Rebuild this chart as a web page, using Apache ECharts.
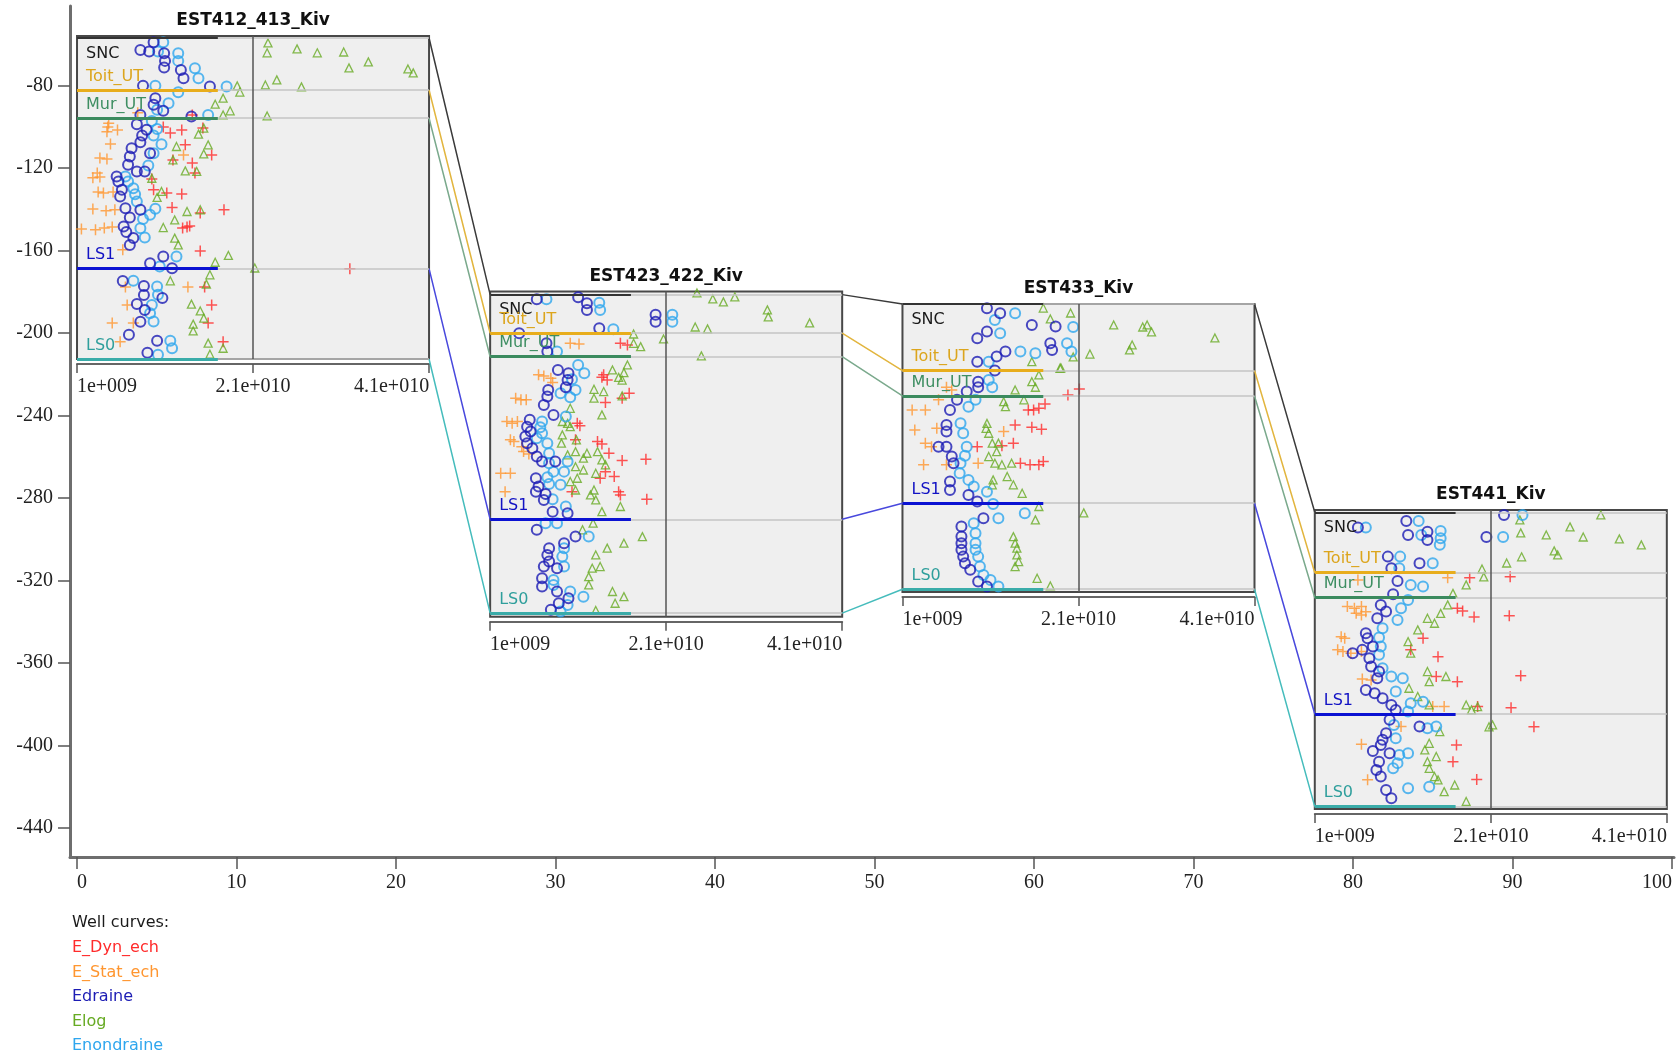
<!DOCTYPE html>
<html><head><meta charset="utf-8">
<script src="https://cdn.jsdelivr.net/npm/echarts@6/dist/echarts.min.js"></script>
<style>html,body{margin:0;padding:0;background:#fff}#c{width:1680px;height:1056px}</style>
</head><body><div id="c"></div>
<script>
// ---------------- DATA ----------------
const seriesNames = ['E_Dyn_ech', 'E_Stat_ech', 'Edraine', 'Elog', 'Enondraine'];
const wellNames = ['EST412_413_Kiv', 'EST423_422_Kiv', 'EST433_Kiv', 'EST441_Kiv'];
const wellX = [0, 25.9, 51.75, 77.6];          // track position along the main x axis
const trackWidth = 22.07;                      // track width in main x units
const wellTop = [-56.0, -179.9, -185.9, -285.8];
const wellBottom = [-212.6, -337.6, -325.5, -430.7];
const markerNames = ['SNC', 'Toit_UT', 'Mur_UT', 'LS1', 'LS0'];
const w1Markers = [-57.0, -82.2, -95.9, -168.8, -212.6];
const w2Markers = [-181.4, -200.1, -211.5, -290.3, -335.8];
const w3Markers = [-185.9, -218.2, -230.5, -282.5, -324.2];
const w4Markers = [-286.9, -316.2, -328.3, -384.7, -429.6];
const markerCurveEnd = 17;                     // marker lines drawn from 1e9 to 1.7e10
const xTicks = [0, 10, 20, 30, 40, 50, 60, 70, 80, 90, 100];
const yTicks = [-80, -120, -160, -200, -240, -280, -320, -360, -400, -440];
const trackTicks = [1, 21, 41];                // in units of 1e9
const trackTickLabels = ['1e+009', '2.1e+010', '4.1e+010'];

// well 1 (x in 1e9 units, depth)
const w1Dyn = [[15.3,-100.6],[10.8,-100.1],[11.6,-103.0],[12.9,-101.6],[13.3,-108.8],[16.3,-113.7],[11.9,-116.1],[14.1,-117.6],[14.4,-122.4],[11.2,-132.1],[12.9,-132.6],[17.7,-140.3],[15.0,-141.8],[13.0,-149.1],[13.5,-148.6],[13.8,-148.1],[15.0,-160.2],[32.0,-168.9],[15.5,-177.7],[16.3,-186.4],[15.9,-195.1],[17.6,-204.3],[14.1,-94.3],[9.5,-125.3],[9.7,-130.6],[11.8,-139.2]];
const w1Stat = [[4.5,-100.1],[4.4,-102.5],[5.6,-101.6],[4.8,-108.4],[3.6,-115.2],[4.4,-115.7],[2.8,-124.8],[3.6,-124.4],[3.3,-122.4],[3.4,-131.6],[4.0,-132.1],[5.1,-131.6],[2.8,-139.9],[4.3,-140.8],[5.3,-140.3],[1.5,-149.6],[3.1,-150.0],[4.1,-149.1],[5.0,-148.6],[6.2,-159.7],[6.5,-177.7],[6.7,-186.4],[5.0,-195.1],[7.4,-195.1],[5.9,-204.3],[7.9,-93.3],[13.1,-113.7],[13.6,-177.7],[4.6,-98.3]];
const w1Drained = [[9.7,-59.1],[8.2,-62.8],[9.2,-63.6],[10.9,-64.4],[11.0,-68.1],[10.9,-71.3],[12.8,-72.5],[13.1,-76.5],[16.1,-80.5],[8.5,-80.1],[9.9,-86.2],[9.7,-89.4],[10.8,-92.3],[14.0,-95.1],[8.2,-94.3],[7.8,-98.8],[8.9,-101.5],[8.4,-104.3],[8.2,-107.5],[7.2,-110.4],[7.0,-114.5],[9.3,-112.9],[6.8,-118.5],[7.8,-121.7],[8.7,-121.7],[5.5,-124.2],[5.7,-126.6],[6.1,-130.6],[5.9,-133.9],[6.5,-139.5],[8.2,-140.3],[7.0,-144.0],[6.3,-148.4],[6.6,-151.1],[7.4,-154.0],[7.0,-157.3],[10.8,-162.9],[9.3,-166.2],[11.8,-168.6],[6.2,-174.8],[8.6,-177.2],[8.6,-181.6],[7.8,-185.9],[8.7,-188.8],[8.2,-194.6],[6.9,-200.9],[10.1,-203.8],[9.0,-209.6],[10.7,-183.0]];
const w1Elog = [[22.7,-59.4],[22.6,-64.2],[26.0,-62.3],[28.3,-64.2],[31.3,-63.8],[31.9,-71.5],[34.1,-68.6],[38.6,-72.0],[39.2,-73.9],[22.4,-79.8],[23.7,-77.3],[26.5,-80.7],[22.6,-94.8],[19.2,-80.2],[19.5,-83.2],[21.2,-168.5],[17.6,-86.2],[16.7,-89.1],[18.4,-92.3],[17.6,-94.3],[15.4,-100.7],[14.8,-103.6],[12.3,-109.6],[15.9,-108.8],[15.4,-113.2],[11.9,-116.1],[13.3,-121.4],[14.6,-121.7],[9.5,-125.0],[10.6,-131.4],[10.1,-134.3],[12.1,-145.2],[13.5,-141.1],[15.0,-140.3],[10.8,-148.9],[12.1,-154.0],[12.5,-157.3],[18.2,-162.4],[16.7,-165.7],[16.1,-171.8],[11.6,-174.7],[15.7,-176.3],[14.0,-186.0],[15.0,-189.3],[15.4,-192.8],[14.2,-195.7],[14.2,-199.0],[15.9,-204.9],[17.6,-207.4],[16.1,-210.3]];
const w1Undrained = [[10.8,-59.1],[10.2,-63.6],[12.5,-64.4],[12.5,-68.1],[14.4,-71.7],[14.8,-76.5],[18.0,-80.5],[9.9,-80.1],[12.5,-83.3],[11.4,-88.6],[10.1,-91.8],[15.9,-94.3],[9.5,-97.2],[10.1,-101.1],[9.7,-104.3],[10.6,-108.5],[9.7,-112.9],[9.1,-118.8],[6.5,-124.2],[6.8,-126.6],[7.4,-129.8],[7.6,-132.7],[7.8,-136.3],[9.9,-139.8],[9.3,-142.7],[8.5,-144.7],[8.2,-149.2],[8.7,-153.7],[12.3,-162.9],[10.4,-167.8],[7.4,-174.7],[10.1,-177.5],[10.2,-181.5],[9.5,-186.4],[9.3,-190.4],[9.7,-194.4],[11.6,-203.8],[11.8,-207.4],[10.2,-210.6]];

// well 2
const w2Dyn = [[15.8,-205.0],[16.6,-205.8],[13.9,-220.3],[14.3,-222.8],[13.7,-221.5],[16.8,-229.2],[16.0,-231.6],[14.1,-233.7],[10.9,-243.8],[11.2,-245.0],[10.7,-251.8],[13.2,-252.6],[13.7,-253.8],[14.5,-258.3],[16.0,-261.8],[18.7,-261.2],[14.1,-267.2],[15.1,-269.6],[13.5,-270.4],[10.3,-276.9],[15.6,-276.9],[15.8,-278.5],[18.8,-280.6]];
const w2Stat = [[10.1,-205.0],[11.1,-205.3],[6.5,-220.3],[7.1,-220.8],[7.9,-221.9],[8.1,-224.0],[3.9,-231.6],[4.5,-232.4],[5.1,-232.4],[2.9,-242.9],[3.5,-243.8],[4.1,-242.9],[3.3,-251.8],[3.7,-252.6],[4.6,-255.1],[4.8,-257.5],[5.4,-258.6],[2.2,-268.0],[3.3,-268.0],[2.7,-276.9]];
const w2Drained = [[6.3,-183.7],[11.0,-182.7],[12.0,-185.6],[12.0,-188.8],[13.4,-197.7],[4.3,-200.1],[7.4,-205.0],[7.5,-209.0],[8.7,-217.9],[9.9,-219.5],[9.8,-222.8],[9.6,-226.3],[7.6,-227.6],[7.5,-230.8],[7.1,-234.9],[8.2,-239.7],[5.5,-242.1],[5.2,-245.4],[5.6,-247.8],[5.0,-250.2],[5.2,-253.4],[5.8,-255.9],[6.3,-259.9],[6.9,-262.3],[8.4,-262.3],[6.2,-270.4],[6.5,-274.4],[6.2,-276.9],[7.3,-278.0],[7.1,-280.9],[8.1,-286.6],[9.8,-287.4],[6.3,-295.4],[10.7,-298.7],[9.4,-301.9],[7.7,-304.3],[7.5,-307.6],[7.7,-310.8],[7.1,-313.2],[8.6,-314.0],[6.9,-318.9],[6.9,-322.9],[8.6,-325.3],[9.9,-328.6],[8.8,-331.0],[7.9,-334.2],[19.8,-191.2],[19.8,-194.6]];
const w2Elog = [[24.5,-180.6],[26.3,-183.5],[27.5,-184.9],[28.8,-182.5],[32.5,-188.8],[32.6,-192.2],[37.3,-195.1],[24.3,-197.1],[25.7,-198.0],[20.7,-202.9],[25.0,-211.1],[17.3,-200.5],[17.3,-205.0],[18.1,-206.6],[16.6,-215.5],[14.9,-217.9],[16.2,-219.2],[15.6,-221.5],[16.0,-222.8],[12.8,-227.3],[13.9,-228.4],[12.8,-231.6],[16.0,-230.5],[13.7,-239.7],[10.1,-236.5],[9.2,-242.9],[9.8,-243.8],[10.1,-245.4],[9.2,-249.4],[9.1,-253.4],[10.8,-251.8],[12.0,-258.3],[9.8,-259.1],[10.7,-257.5],[11.6,-260.7],[13.2,-257.5],[13.7,-261.5],[14.1,-263.9],[10.7,-264.8],[11.6,-266.4],[13.0,-268.0],[10.9,-270.4],[10.1,-272.0],[12.8,-276.1],[10.7,-276.1],[12.4,-278.5],[13.0,-280.9],[13.7,-286.6],[15.8,-284.1],[12.7,-292.2],[11.5,-295.4],[18.3,-298.7],[16.2,-301.9],[14.3,-304.3],[13.0,-307.6],[12.6,-314.0],[13.5,-313.2],[12.2,-318.1],[12.2,-322.1],[14.9,-325.3],[16.2,-327.8],[15.2,-331.0],[13.0,-334.5]];
const w2Undrained = [[7.4,-183.7],[13.4,-185.3],[13.5,-188.8],[15.0,-198.2],[8.6,-209.0],[11.0,-215.5],[11.7,-219.5],[10.3,-222.4],[10.7,-227.6],[9.0,-229.2],[10.1,-231.1],[9.6,-240.5],[6.9,-242.9],[6.7,-245.7],[6.9,-248.6],[6.3,-251.0],[7.5,-253.4],[7.7,-258.3],[7.7,-263.1],[9.8,-262.3],[8.2,-267.2],[9.4,-267.2],[7.5,-269.9],[7.7,-273.2],[9.0,-273.6],[8.1,-280.6],[9.6,-284.1],[8.6,-292.2],[7.3,-292.2],[12.2,-298.7],[9.4,-304.3],[9.2,-308.4],[9.4,-313.2],[8.2,-319.7],[8.2,-322.1],[10.1,-325.3],[11.6,-327.8],[9.8,-331.8],[9.0,-335.0],[21.7,-191.2],[21.7,-194.6]];

// well 3
const w3Dyn = [[17.2,-234.4],[16.5,-236.5],[15.3,-237.3],[15.9,-237.3],[13.8,-244.6],[15.7,-245.7],[16.8,-246.7],[13.6,-253.4],[12.3,-254.7],[9.5,-255.1],[14.4,-263.1],[15.5,-263.9],[16.5,-263.9],[17.0,-262.3],[19.8,-230.0],[21.1,-227.1]];
const w3Stat = [[6.0,-226.3],[6.6,-227.6],[5.1,-232.4],[2.1,-237.3],[3.6,-237.3],[2.4,-247.0],[4.9,-246.2],[3.6,-253.4],[4.3,-255.1],[3.4,-263.9],[6.0,-263.9],[9.6,-263.1],[12.5,-247.8]];
const w3Drained = [[10.6,-188.0],[12.1,-190.4],[15.7,-196.1],[18.4,-196.9],[10.6,-199.3],[9.5,-202.6],[17.8,-205.0],[18.0,-208.2],[12.7,-209.0],[11.7,-211.4],[9.5,-213.9],[11.5,-218.2],[9.6,-223.6],[8.3,-228.4],[9.6,-226.3],[7.2,-232.4],[6.4,-237.3],[6.0,-244.6],[6.0,-247.8],[5.1,-255.1],[6.0,-255.1],[6.6,-259.9],[6.8,-263.1],[6.4,-272.0],[6.4,-276.1],[8.5,-278.5],[9.5,-281.7],[10.2,-289.8],[7.7,-293.8],[7.7,-298.7],[7.7,-301.9],[7.7,-305.1],[7.9,-308.4],[8.1,-311.6],[8.7,-314.8],[9.6,-320.5],[10.6,-322.9]];
const w3Elog = [[17.0,-187.9],[20.1,-190.3],[25.0,-196.1],[28.3,-197.1],[28.8,-196.1],[29.3,-199.5],[36.5,-202.4],[27.1,-205.8],[26.8,-208.2],[22.3,-210.2],[19.0,-216.9],[21.6,-287.2],[17.8,-193.2],[20.4,-211.6],[15.7,-213.9],[18.9,-217.1],[16.5,-220.3],[15.7,-223.6],[16.1,-226.3],[13.8,-227.6],[12.5,-233.3],[12.7,-235.7],[14.8,-232.4],[10.6,-243.8],[10.5,-246.2],[10.8,-248.6],[11.9,-253.4],[11.2,-253.4],[11.7,-257.5],[10.8,-259.9],[11.5,-263.1],[12.3,-263.9],[13.4,-263.1],[12.9,-269.6],[11.3,-271.2],[11.2,-273.6],[13.6,-273.6],[14.6,-277.7],[16.5,-284.1],[16.1,-290.6],[13.6,-298.7],[13.8,-301.9],[14.0,-304.3],[14.0,-307.6],[14.2,-310.8],[13.8,-313.2],[16.3,-318.9],[17.8,-322.6]];
const w3Undrained = [[13.8,-190.4],[11.5,-193.7],[12.1,-200.1],[19.7,-205.0],[20.2,-209.0],[16.1,-209.8],[14.4,-209.0],[10.8,-213.9],[10.8,-222.8],[11.2,-226.3],[9.3,-232.4],[8.5,-235.7],[7.6,-243.8],[7.9,-248.6],[8.3,-255.1],[8.1,-259.5],[7.6,-263.1],[7.5,-268.0],[8.5,-271.2],[9.1,-274.4],[10.6,-276.9],[11.3,-282.9],[11.9,-289.8],[14.9,-287.4],[9.1,-292.2],[9.3,-297.1],[9.3,-301.9],[9.3,-305.1],[9.6,-308.4],[9.8,-313.2],[10.2,-317.3],[11.0,-319.7],[11.9,-322.9],[20.4,-197.1]];

// well 4
const w4Dyn = [[18.6,-318.7],[23.2,-318.2],[17.2,-333.4],[17.8,-334.7],[19.1,-337.7],[23.1,-337.1],[13.3,-348.0],[11.9,-353.6],[15.0,-356.9],[14.8,-366.5],[17.2,-369.0],[24.4,-366.2],[19.5,-381.1],[23.3,-381.7],[25.9,-390.9],[17.1,-399.7],[16.7,-407.8],[19.4,-416.4]];
const w4Stat = [[4.7,-332.6],[5.5,-333.4],[6.3,-332.6],[5.7,-335.9],[6.3,-336.7],[6.8,-335.1],[4.0,-347.2],[4.4,-348.0],[3.6,-353.6],[4.2,-354.4],[5.1,-355.2],[6.3,-354.4],[6.4,-367.7],[7.4,-368.2],[14.4,-381.1],[15.7,-381.1],[10.8,-390.8],[6.3,-399.3],[7.0,-416.6],[16.1,-318.7],[5.9,-319.7]];
const w4Drained = [[11.4,-291.1],[5.9,-294.3],[11.6,-297.9],[13.8,-296.3],[13.8,-300.3],[12.9,-311.6],[9.3,-308.4],[9.7,-314.0],[10.4,-320.2],[9.9,-326.6],[8.5,-331.8],[9.1,-335.0],[8.1,-338.3],[6.8,-345.5],[7.0,-348.0],[7.6,-352.0],[5.3,-355.2],[6.4,-353.6],[7.2,-357.7],[7.4,-361.7],[8.3,-364.1],[8.1,-367.4],[6.8,-373.0],[7.8,-374.6],[8.7,-377.0],[9.7,-380.3],[10.2,-382.7],[9.5,-387.5],[12.9,-390.8],[9.1,-394.0],[8.7,-397.2],[8.5,-399.7],[7.6,-402.6],[9.5,-403.7],[8.3,-407.8],[8.0,-411.8],[8.5,-415.0],[9.1,-421.5],[9.7,-425.5],[20.5,-298.9],[22.5,-288.2]];
const w4Elog = [[33.5,-288.2],[24.3,-290.6],[24.4,-296.9],[27.3,-297.9],[30.0,-294.0],[31.5,-298.9],[35.6,-299.8],[38.1,-302.7],[28.2,-305.6],[28.6,-307.6],[24.5,-308.5],[22.8,-311.5],[20.0,-314.4],[20.2,-318.2],[20.8,-390.9],[18.2,-322.1],[16.7,-326.2],[16.1,-331.8],[13.8,-338.3],[14.6,-340.7],[15.3,-335.9],[12.7,-343.9],[11.6,-349.6],[11.9,-355.2],[13.8,-364.1],[14.0,-369.0],[15.9,-366.5],[11.7,-372.2],[12.7,-376.2],[14.0,-380.3],[18.2,-380.3],[18.8,-382.7],[19.5,-381.1],[21.2,-390.0],[15.2,-393.2],[14.0,-398.9],[13.5,-402.1],[14.8,-405.3],[13.8,-407.8],[14.0,-411.0],[14.6,-415.0],[15.0,-416.6],[15.7,-422.3],[16.9,-419.1],[18.2,-427.1]];
const w4Undrained = [[6.8,-294.3],[12.8,-291.1],[13.1,-297.9],[15.3,-296.0],[15.3,-299.5],[15.2,-302.7],[14.4,-311.6],[10.7,-308.4],[10.6,-314.0],[11.9,-322.1],[13.3,-322.9],[11.6,-329.4],[10.8,-333.4],[10.4,-339.1],[8.7,-343.1],[8.3,-347.6],[8.5,-352.0],[8.3,-356.0],[8.7,-362.5],[9.7,-366.5],[11.0,-367.4],[10.2,-373.8],[11.9,-379.5],[13.3,-378.7],[11.6,-383.5],[13.8,-391.6],[14.8,-390.8],[10.0,-390.0],[10.2,-396.4],[10.6,-404.5],[11.6,-403.7],[10.4,-408.5],[9.9,-411.0],[11.6,-420.7],[14.0,-419.9],[24.6,-288.2],[22.4,-298.9]];

// ---------------- STYLE ----------------
const SERIF = '"Liberation Serif", "DejaVu Serif", serif';
const SANS = '"DejaVu Sans", Verdana, sans-serif';
const curveColors = ['#ff2b2b', '#ff9630', '#1c1cb4', '#66aa22', '#2ea6ee'];
const markerLineColors = ['#333333', '#e8ad1c', '#3b8a5e', '#0b12d2', '#3aaca9'];
const markerLabelColors = ['#1a1a1a', '#dca51c', '#3e8e62', '#1212c4', '#2f9f9c'];
const corrColors = ['#3a3a3a', '#e2b53e', '#7aa98c', '#4848dd', '#45bcbc'];
const PLUS = 'path://M9.5,0H12.5V9.5H22V12.5H12.5V22H9.5V12.5H0V9.5H9.5Z';

const wellCurves = [
  [w1Dyn, w1Stat, w1Drained, w1Elog, w1Undrained],
  [w2Dyn, w2Stat, w2Drained, w2Elog, w2Undrained],
  [w3Dyn, w3Stat, w3Drained, w3Elog, w3Undrained],
  [w4Dyn, w4Stat, w4Drained, w4Elog, w4Undrained]
];
const wellMarkers = [w1Markers, w2Markers, w3Markers, w4Markers];

function symbolStyle(k) {
  if (k < 2) return { symbol: PLUS, symbolSize: 11, itemStyle: { color: curveColors[k], borderWidth: 0 } };
  if (k === 3) return { symbol: 'triangle', symbolSize: 8, itemStyle: { color: 'rgba(0,0,0,0)', borderColor: curveColors[k], borderWidth: 1.3 } };
  return { symbol: 'circle', symbolSize: 10, itemStyle: { color: 'rgba(0,0,0,0)', borderColor: curveColors[k], borderWidth: 2 } };
}

const chart = echarts.init(document.getElementById('c'));

const mainGrid = { left: 70, top: 6, width: 1604, height: 851 };
const labelFont = { fontFamily: SERIF, fontSize: 20, color: '#222' };
const mainXAxis = {
  type: 'value', gridIndex: 0, min: -0.44, max: 100.12,
  axisLine: { show: true, onZero: false, lineStyle: { color: '#6e6e6e', width: 3 } },
  axisTick: { show: true, customValues: xTicks, length: 12, lineStyle: { color: '#555', width: 1.5 } },
  axisLabel: Object.assign({
    customValues: xTicks, margin: 16,
    formatter: v => v === xTicks[0] ? '{first|' + v + '}' : (v === xTicks[xTicks.length - 1] ? '{last|' + v + '}' : String(v)),
    rich: {
      first: Object.assign({ padding: [0, 0, 0, 10] }, labelFont),
      last: Object.assign({ padding: [0, 30, 0, 0] }, labelFont)
    }
  }, labelFont),
  splitLine: { show: false }
};
const mainYAxis = {
  type: 'value', gridIndex: 0, min: -454, max: -41.5,
  axisLine: { show: true, onZero: false, lineStyle: { color: '#6e6e6e', width: 3 } },
  axisTick: { show: true, customValues: yTicks, length: 12, lineStyle: { color: '#555', width: 1.5 } },
  axisLabel: Object.assign({ customValues: yTicks, margin: 17 }, labelFont),
  splitLine: { show: false }
};

chart.setOption({ animation: false, grid: [mainGrid], xAxis: [mainXAxis], yAxis: [mainYAxis], series: [] });
const toPx = (x, y) => chart.convertToPixel({ gridIndex: 0 }, [x, y]);

const grids = [mainGrid], xAxes = [mainXAxis], yAxes = [mainYAxis], series = [], graphics = [];

wellNames.forEach((wn, i) => {
  const p0 = toPx(wellX[i], wellTop[i]);
  const p1 = toPx(wellX[i] + trackWidth, wellBottom[i]);
  grids.push({ left: p0[0], top: p0[1], width: p1[0] - p0[0], height: p1[1] - p0[1], show: true,
    backgroundColor: '#efefef', borderColor: '#484848', borderWidth: 2 });
  xAxes.push({
    type: 'value', gridIndex: i + 1, min: trackTicks[0], max: trackTicks[trackTicks.length - 1], position: 'bottom', offset: 5,
    axisLine: { show: true, onZero: false, lineStyle: { color: '#666', width: 2 } },
    axisTick: { show: true, customValues: trackTicks, length: 9, lineStyle: { color: '#555', width: 1.5 } },
    axisLabel: Object.assign({
      customValues: trackTicks, margin: 13,
      formatter: v => {
        const k = trackTicks.indexOf(v);
        const t = trackTickLabels[k];
        return k === 0 ? '{first|' + t + '}' : (k === trackTicks.length - 1 ? '{last|' + t + '}' : t);
      },
      rich: {
        first: Object.assign({ padding: [0, 0, 0, 60] }, labelFont),
        last: Object.assign({ padding: [0, 75, 0, 0] }, labelFont)
      }
    }, labelFont),
    splitLine: { show: false }
  });
  yAxes.push({ type: 'value', gridIndex: i + 1, min: wellBottom[i], max: wellTop[i], show: false, splitLine: { show: false } });

  // markers (grey full-width lines, 2.1e10 line, coloured tops with names)
  const wm = wellMarkers[i];
  const md = [];
  wm.forEach(d => md.push({ yAxis: d, lineStyle: { color: '#c4c4c4', width: 1.5, type: 'solid' }, label: { show: false } }));
  md.push({ xAxis: trackTicks[1], lineStyle: { color: '#555', width: 1.5, type: 'solid' }, label: { show: false } });
  wm.forEach((d, j) => md.push([
    { coord: [trackTicks[0], d], lineStyle: { color: markerLineColors[j], width: j === 0 ? 2 : 3, type: 'solid' },
      label: { show: true, formatter: markerNames[j], position: j === 0 ? 'insideStartBottom' : 'insideStartTop',
        distance: j === 0 ? [9, 7.5] : [9, 5.5], color: markerLabelColors[j], fontFamily: SANS, fontSize: 16 } },
    { coord: [markerCurveEnd, d] }
  ]));
  series.push({
    type: 'scatter', name: 'markers_' + i, xAxisIndex: i + 1, yAxisIndex: i + 1, silent: true, z: 2,
    data: [[trackTicks[0], wellTop[i]]], symbolSize: 0, itemStyle: { opacity: 0 },
    markLine: { silent: true, symbol: 'none', animation: false, data: md }
  });
  // curves
  wellCurves[i].forEach((arr, k) => {
    series.push(Object.assign({
      type: 'scatter', name: seriesNames[k], xAxisIndex: i + 1, yAxisIndex: i + 1, z: 3 + (k === 2 ? 1 : 0),
      data: arr, clip: true, emphasis: { disabled: true }
    }, symbolStyle(k)));
  });
  // title
  const tc = toPx(wellX[i] + trackWidth / 2, wellTop[i]);
  graphics.push({ type: 'text', x: tc[0], y: tc[1] - 15, silent: true,
    style: { text: wn, font: 'bold 17px ' + SANS, fill: '#111', align: 'center', verticalAlign: 'middle', textAlign: 'center', textVerticalAlign: 'middle' } });
});

// correlation lines between tracks
markerNames.forEach((mn, j) => {
  const data = [];
  for (let i = 0; i < wellNames.length - 1; i++) {
    data.push([wellX[i] + trackWidth, wellMarkers[i][j]]);
    data.push([wellX[i + 1], wellMarkers[i + 1][j]]);
    data.push(['-', '-']);
  }
  series.push({ type: 'line', name: 'corr_' + mn, xAxisIndex: 0, yAxisIndex: 0, data: data, symbol: 'none',
    connectNulls: false, silent: true, clip: false, z: 2, lineStyle: { color: corrColors[j], width: 1.5 } });
});

graphics.push({ type: 'text', x: 72, y: 923, silent: true,
  style: { text: 'Well curves:', font: '16px ' + SANS, fill: '#1a1a1a', align: 'left', verticalAlign: 'middle', textAlign: 'left', textVerticalAlign: 'middle' } });

chart.setOption({
  animation: false,
  grid: grids, xAxis: xAxes, yAxis: yAxes, series: series, graphic: graphics,
  legend: {
    orient: 'vertical', left: 67, top: 940, padding: 0, itemWidth: 0, itemHeight: 16, itemGap: 8.5, icon: 'none',
    textStyle: { fontFamily: SANS, fontSize: 16, lineHeight: 16 },
    data: seriesNames.map((n, k) => ({ name: n, icon: 'none', textStyle: { color: curveColors[k] } }))
  }
}, true);
</script></body></html>
